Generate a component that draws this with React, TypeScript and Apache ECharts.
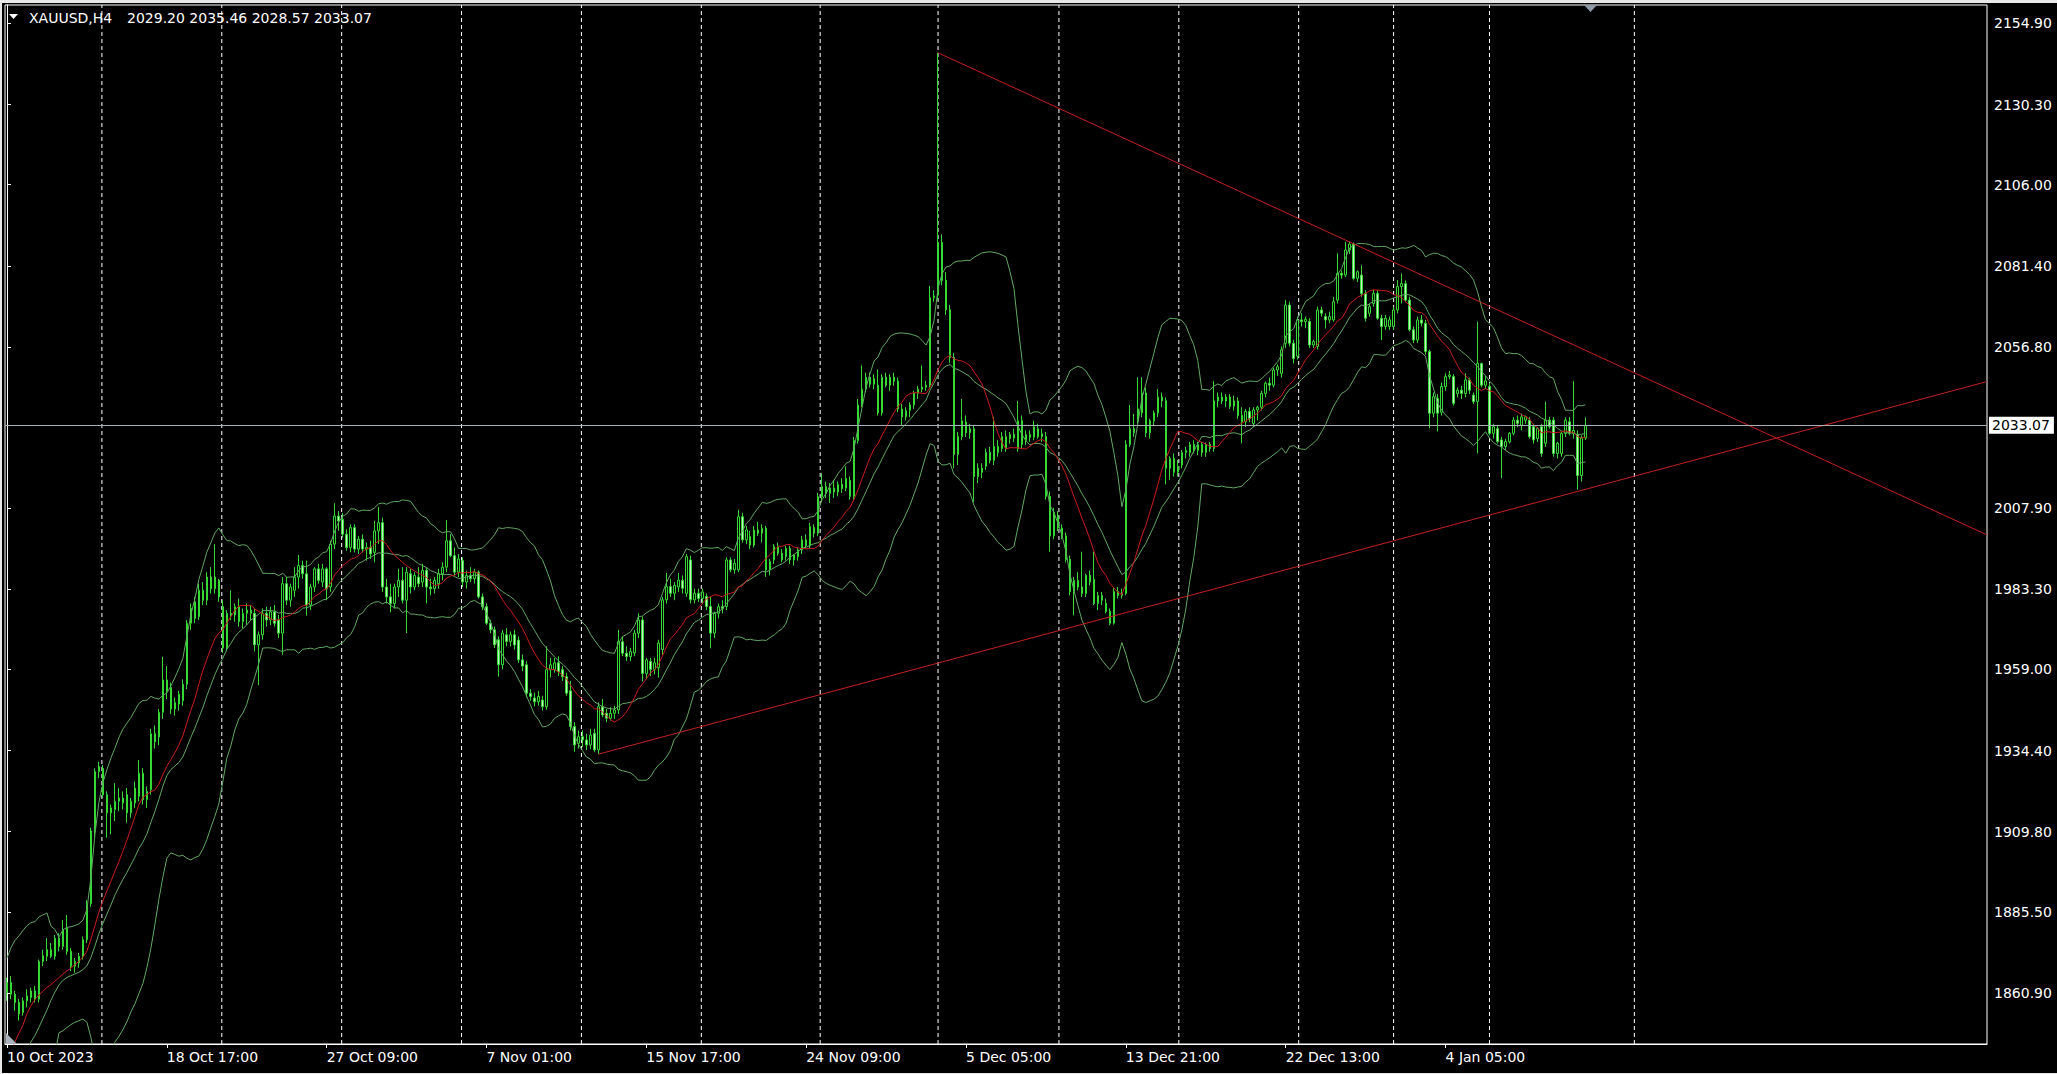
import React, { useEffect, useRef } from "react";
import * as echarts from "echarts";

const W = 2057;
const H = 1074;
const FONT = "'DejaVu Sans', Verdana, sans-serif";

// ---------- DATA (XAUUSD H4, bar 0 = 10 Oct 2023 01:00) ----------
const opens: number[] = [
  1861, 1864, 1860.5, 1858, 1855, 1858.5, 1859.5, 1861.5, 1859, 1870.4,
  1872, 1874, 1872, 1877.5, 1875, 1880.5, 1873.5, 1869, 1870, 1872,
  1877, 1888, 1910, 1928, 1929, 1921, 1915.5, 1916.5, 1919, 1920,
  1921, 1915.5, 1918.5, 1920.5, 1927.5, 1919.5, 1922.5, 1939.5, 1938.5, 1946,
  1955.8, 1953.5, 1947, 1948.5, 1949.5, 1954.5, 1973, 1979.5, 1975, 1983,
  1980, 1987, 1983.5, 1986, 1978, 1965.5, 1976, 1975.5, 1978, 1973.5,
  1976, 1977, 1976, 1966.5, 1969.5, 1976, 1974, 1976.5, 1974, 1970,
  1985, 1980, 1983, 1987, 1990.5, 1988, 1978.5, 1984, 1989.5, 1985.5,
  1989.5, 1984, 1997, 2005.5, 2004.5, 2000, 1996, 2002, 1995.5, 1998.5,
  1995.5, 1996, 1994.5, 2001, 2003.5, 1984, 1981, 1979, 1984, 1986,
  1980, 1988, 1984, 1987, 1985.5, 1989, 1984, 1983.5, 1985, 1988,
  1990, 1998, 1993.5, 1988.5, 1992, 1985.5, 1987.5, 1986.5, 1988.5, 1981,
  1978, 1973, 1971, 1968, 1960.4, 1969.5, 1967.5, 1969.5, 1967.9, 1961.9,
  1960.4, 1951.8, 1950.3, 1949.2, 1949.7, 1947.7, 1958.9, 1959, 1961, 1958.9,
  1956.8, 1952.5, 1941.7, 1936.6, 1938.6, 1937.6, 1936.1, 1939.6, 1934.6, 1947.7,
  1945.7, 1944.2, 1945.7, 1946.7, 1967.4, 1963.9, 1962.9, 1964, 1970, 1974,
  1957.8, 1961.4, 1959, 1959.5, 1965, 1980.1, 1984.1, 1982.1, 1984, 1986,
  1982.1, 1992.2, 1980.1, 1982.1, 1980.5, 1981.1, 1978.1, 1970, 1976, 1978,
  1978.1, 1992.2, 1989.2, 1989.2, 2005.3, 1998.3, 1999.3, 1996.7, 2001.3, 2000.3,
  2001.8, 1989.2, 1992.2, 1996.2, 1994.2, 1993.2, 1995.7, 1992.2, 1993.2, 1995.2,
  1998.3, 1996.5, 2002, 2000.3, 2011.4, 2014.4, 2012.4, 2014, 2012.8, 2015.1,
  2014, 2016.3, 2011.5, 2028.4, 2039.2, 2044, 2047.6, 2045.5, 2045.2, 2036.8,
  2047.6, 2045.2, 2047.6, 2046.4, 2038, 2035.6, 2037.5, 2039.2, 2042.8, 2044,
  2044.6, 2045.2, 2071.7, 2072.5, 2088.5, 2077, 2068.1, 2053.6, 2024.2, 2029.6,
  2034, 2030.8, 2032, 2017.5, 2020, 2020.6, 2024.8, 2022.4, 2026.6, 2026,
  2029.6, 2029, 2030.2, 2026, 2034.4, 2028.4, 2030.2, 2029.4, 2032, 2029.6,
  2029.6, 2011.5, 1999.5, 2005.5, 2001.9, 1999.5, 1992.3, 1982.6, 1986, 1984,
  1982, 1987.5, 1986.3, 1979, 1981.4, 1979, 1976.6, 1973, 1982.6, 1981.4,
  1982, 2027.2, 2032, 2034.4, 2036.8, 2042.8, 2030.8, 2034.4, 2036.8, 2041.6,
  2040.5, 2020, 2023, 2018.8, 2021, 2024.8, 2024.8, 2027.2, 2025.4, 2027.2,
  2024.8, 2027.2, 2026, 2040.4, 2041.6, 2040.4, 2041.6, 2038.8, 2040.4, 2036,
  2034.1, 2037.2, 2033.6, 2037.7, 2038.5, 2042.7, 2045.8, 2045.2, 2049.8, 2048.8,
  2057.9, 2069.5, 2057.9, 2054, 2065, 2064.5, 2064.5, 2057.4, 2056.9, 2068,
  2066, 2065, 2065, 2071, 2079.1, 2078.6, 2086.2, 2088, 2077.6, 2078.6,
  2073, 2067, 2070, 2073, 2065.5, 2063, 2063, 2063, 2068, 2075.1,
  2076, 2071, 2062, 2058.9, 2065, 2064, 2055.4, 2036.7, 2041.2, 2037,
  2044.8, 2047.8, 2047.8, 2042.7, 2043.7, 2042.7, 2046.8, 2042.2, 2040.2, 2051.8,
  2045.2, 2044.8, 2030.6, 2032, 2028.6, 2026.6, 2028, 2030.6, 2034.6, 2033,
  2034.6, 2034.6, 2032.6, 2029, 2032.6, 2027.6, 2034.6, 2034.6, 2024.5, 2024.5,
  2030.6, 2034.1, 2030.6, 2030.3, 2017.8, 2029.2,
];
const highs: number[] = [
  1865.5, 1866, 1861.5, 1859, 1859.5, 1862, 1862.5, 1863, 1871, 1874,
  1877.5, 1876, 1878.5, 1879, 1883, 1884.5, 1874.5, 1871.5, 1873, 1878,
  1889, 1911, 1929, 1931, 1930, 1922, 1918, 1924.5, 1923, 1922,
  1923, 1920, 1925, 1931.5, 1929, 1923.5, 1941, 1942, 1947, 1962.8,
  1960, 1955, 1950.5, 1952.5, 1956, 1974, 1979, 1981, 1985, 1985.5,
  1988.5, 1990, 1997, 1986.5, 1980, 1977, 1983, 1979, 1980.5, 1977.5,
  1979, 1978.5, 1977.5, 1970.5, 1977.5, 1978, 1978, 1978.5, 1975.5, 1987,
  1987, 1985, 1990, 1993.7, 1992, 1992, 1985, 1990, 1991, 1991,
  1990, 1998, 2009.4, 2007, 2006.5, 2001.5, 2003, 2003, 1999.5, 2000,
  1997.5, 1998, 2004, 2008.3, 2005, 1986.5, 1985, 1985, 1989.5, 1990,
  1990, 1989.5, 1988.5, 1990, 1991, 1990, 1986.5, 1987, 1989.5, 1991.5,
  2004.3, 2000, 1996, 1994, 1993, 1989, 1990, 1989.5, 1989, 1982,
  1979, 1974, 1972, 1969, 1971, 1971.5, 1970.5, 1971, 1969, 1963.5,
  1961.5, 1953, 1952, 1952.5, 1951, 1966, 1962.5, 1962.5, 1963, 1960,
  1958, 1955.5, 1943, 1940.5, 1940.5, 1939.5, 1941, 1941, 1949, 1950,
  1947, 1947.5, 1948, 1971, 1969, 1966, 1965.5, 1971, 1976, 1975,
  1962.5, 1962.5, 1962.5, 1968, 1981, 1988.2, 1986.5, 1985.5, 1988.2, 1987.5,
  1994, 1993.5, 1983.5, 1983.5, 1983.5, 1982, 1981, 1976.5, 1979, 1980,
  1993, 1993, 1992.5, 2007.4, 2006.5, 2002.5, 2001, 2002.5, 2003.8, 2003,
  2002.5, 1992.5, 1997, 1997.5, 1995.5, 1996.5, 1996.5, 1994, 1996, 1999.5,
  2000, 2003.5, 2003, 2012.5, 2018.5, 2016, 2015.5, 2016.5, 2016, 2017,
  2020.6, 2017.5, 2029.5, 2041, 2051.2, 2049, 2049, 2048.5, 2050, 2048.5,
  2049, 2048.5, 2049, 2047.5, 2039.5, 2038.5, 2040, 2043.5, 2045, 2051.2,
  2046.5, 2075.3, 2074, 2146, 2090.9, 2079.5, 2069.5, 2055, 2031, 2041,
  2036, 2033.5, 2033, 2021.5, 2021.5, 2026, 2026.5, 2035.6, 2028.5, 2031,
  2031.5, 2031, 2032, 2040.4, 2036, 2031.5, 2031.5, 2034.4, 2033.5, 2032,
  2031, 2013, 2008, 2007, 2003, 2000.5, 1993.5, 1987, 1988.5, 1994.7,
  1988, 1989, 1994.7, 1982.5, 1982.5, 1980.5, 1977.5, 1984, 1984, 1983.5,
  2028.5, 2039.2, 2036.5, 2047.6, 2047.6, 2044.5, 2035, 2037.5, 2044, 2043,
  2041.5, 2023.6, 2024.5, 2022.5, 2025.5, 2026.5, 2028, 2028.5, 2028, 2028,
  2027.8, 2028, 2046.4, 2043, 2043, 2042.5, 2042.5, 2042, 2041.5, 2038.5,
  2038, 2038.5, 2038.5, 2039, 2043.5, 2046.3, 2047.5, 2050.5, 2051.5, 2057,
  2071, 2070.5, 2059, 2066, 2067, 2066, 2065.5, 2059, 2069, 2069,
  2067, 2067.5, 2072, 2085.2, 2080, 2088.7, 2088.7, 2088.5, 2080, 2081.6,
  2074, 2070, 2074.1, 2074, 2066.5, 2066.5, 2066, 2069, 2077.1, 2079.1,
  2077, 2072, 2063, 2066, 2066.5, 2065, 2056, 2043, 2042.5, 2046,
  2048.8, 2049.5, 2048.5, 2044.5, 2045, 2048.8, 2047.5, 2043, 2064.5, 2052,
  2048, 2046, 2033.5, 2033, 2029.5, 2029, 2031, 2035.5, 2036, 2036.6,
  2036, 2035.5, 2033.5, 2032.5, 2033.5, 2040.2, 2035.6, 2035.5, 2028, 2031,
  2035.5, 2035.5, 2046.4, 2031.5, 2030, 2035.46,
];
const lows: number[] = [
  1858.5, 1859, 1855.5, 1852.5, 1854, 1856.5, 1858, 1858, 1858, 1869,
  1870.5, 1871.5, 1871, 1873.5, 1874, 1872.5, 1867.5, 1867, 1868.5, 1871,
  1876, 1887, 1908, 1926, 1920, 1908, 1909, 1913, 1916, 1916.5,
  1912.5, 1914, 1917, 1919, 1918, 1917, 1921, 1935, 1936, 1944,
  1950, 1945.5, 1945, 1946.5, 1948, 1953, 1971, 1973, 1974, 1978.5,
  1978.5, 1982, 1982, 1979.5, 1964, 1964.5, 1974, 1973.5, 1972, 1971.5,
  1972.5, 1974, 1964.5, 1954.2, 1968, 1972, 1972.5, 1972, 1968.5, 1963.5,
  1978.5, 1978, 1981, 1983.5, 1986.5, 1975.3, 1977, 1982.5, 1985, 1984,
  1980, 1982.5, 1995.5, 2001, 1999, 1995, 1994.5, 1994.5, 1994, 1994.5,
  1992, 1992.5, 1991.5, 1997, 1982.5, 1979, 1976.3, 1977.5, 1981, 1979,
  1970, 1982, 1983, 1984, 1984, 1979, 1981.5, 1982, 1983.5, 1986,
  1988.5, 1993, 1987.5, 1987, 1984, 1983.5, 1985.5, 1985, 1980.5, 1977,
  1972.5, 1970, 1965.5, 1956.8, 1959, 1966, 1966, 1965, 1961, 1958.5,
  1950.5, 1949.5, 1947.8, 1948, 1946.5, 1946.8, 1956.5, 1958, 1957, 1955.5,
  1951, 1940.5, 1934, 1935, 1935.5, 1934.5, 1934.8, 1934, 1933.3, 1944.5,
  1943, 1943.5, 1944, 1945.5, 1963, 1961.5, 1961.5, 1963, 1968.5, 1955.3,
  1956, 1957, 1957.5, 1956.5, 1963.5, 1979, 1981, 1980, 1982.5, 1982,
  1981, 1979, 1979, 1979.5, 1979, 1977, 1965.4, 1968.5, 1974.5, 1976,
  1977, 1988.5, 1988, 1988.5, 1997.5, 1997, 1995.5, 1996, 1999.5, 1997.5,
  1987.1, 1987.5, 1991, 1993.5, 1991.5, 1992, 1991, 1990.5, 1992, 1994,
  1995.5, 1995.5, 1999, 1999.5, 2010, 2011, 2009.5, 2011, 2011.5, 2012.5,
  2013, 2010.5, 2010.5, 2027.5, 2038.5, 2043, 2044.5, 2044, 2036, 2036,
  2044.5, 2043.5, 2045, 2037, 2033.2, 2034.5, 2035.5, 2038, 2041, 2043,
  2043.5, 2044.5, 2070.5, 2071, 2075.5, 2066.5, 2052, 2020, 2021, 2028.5,
  2029.5, 2029, 2009.7, 2015.5, 2017, 2019.5, 2021.5, 2021, 2023.5, 2025,
  2025, 2027.5, 2028, 2025, 2026, 2027, 2028, 2028.5, 2029, 2028,
  2010.5, 1994.7, 1998.5, 2001, 1998.5, 1991.5, 1981.5, 1975.4, 1983, 1981,
  1981, 1984.5, 1978.5, 1977, 1978.5, 1976, 1972.4, 1972.6, 1980.5, 1980.5,
  1981.5, 2026.5, 2029.5, 2033.5, 2035.5, 2029.5, 2029, 2033, 2035.5, 2038.5,
  2015.1, 2016.5, 2017.5, 2017.5, 2020, 2023, 2023.5, 2024.5, 2024, 2023.5,
  2023.5, 2025, 2025, 2038.5, 2039.5, 2038.5, 2038, 2037.5, 2035, 2027.6,
  2032.5, 2034, 2032.5, 2034.5, 2037.5, 2041.5, 2043.5, 2044.5, 2048, 2047.5,
  2056.5, 2057, 2051.8, 2053, 2063, 2062.5, 2056.5, 2056.5, 2056, 2066,
  2062.4, 2064, 2064.5, 2070, 2077.5, 2078, 2085, 2077, 2076.5, 2072,
  2064.5, 2066, 2069, 2065, 2058.9, 2062, 2062, 2062, 2067, 2070,
  2070.5, 2061.5, 2058, 2058, 2063, 2054.5, 2032.1, 2035.5, 2031.1, 2036,
  2043.5, 2047, 2039, 2041.5, 2041, 2041.5, 2042.5, 2039.5, 2024.5, 2044.5,
  2044, 2030, 2029, 2027.5, 2017, 2025.5, 2027.5, 2030, 2032.5, 2031.5,
  2033.5, 2029, 2027.5, 2028, 2023.5, 2026.5, 2032, 2023.5, 2023, 2023.5,
  2029.5, 2030, 2029, 2013.5, 2016, 2028.57,
];
const closes: number[] = [
  1864, 1860.5, 1858, 1854.5, 1858.5, 1860, 1861.5, 1859, 1870.4, 1872.2,
  1874, 1872, 1877.5, 1875, 1880, 1873.5, 1869, 1870.5, 1872, 1877,
  1887.6, 1910, 1928, 1929.5, 1921, 1915.5, 1917, 1919, 1920, 1918.5,
  1915.5, 1919, 1923, 1927.5, 1919.5, 1922, 1939.5, 1937, 1946, 1955.8,
  1952.5, 1947, 1949, 1951.5, 1954.5, 1973, 1977.5, 1974.5, 1983, 1980,
  1987, 1983.5, 1987, 1981, 1965.5, 1976, 1975.5, 1978, 1973.5, 1976,
  1977, 1976, 1966.5, 1969.5, 1976, 1974, 1976.5, 1973, 1970, 1985,
  1980, 1984, 1987, 1990.5, 1988, 1978.5, 1984, 1989.5, 1986, 1989.5,
  1983.5, 1997, 2005.5, 2004, 2000, 1996, 2002, 1995.5, 1998.5, 1995.5,
  1996, 1994, 2001, 2003.5, 1984, 1981, 1979, 1984, 1986, 1980,
  1988.5, 1984, 1987.5, 1985, 1989, 1984, 1983.5, 1986, 1988, 1990,
  1998, 1993.5, 1988.5, 1992.5, 1985.5, 1987.5, 1986.5, 1988.5, 1981, 1978,
  1973, 1971, 1966.5, 1960.4, 1970, 1967.5, 1969.5, 1966.4, 1961.9, 1960,
  1951.8, 1950.8, 1949.2, 1950.8, 1947.7, 1958.9, 1960.4, 1961, 1958.3, 1956.8,
  1951.8, 1941.7, 1936.1, 1938.6, 1937.6, 1936.1, 1939.1, 1934.6, 1947.7, 1945.2,
  1944.2, 1945.7, 1946.7, 1967.4, 1963.9, 1962.9, 1964.4, 1970, 1974, 1957.8,
  1961.9, 1959, 1961, 1967, 1980.1, 1984.1, 1982.1, 1984.5, 1986.1, 1983.6,
  1993.2, 1980.1, 1982.1, 1980.5, 1982.5, 1978.1, 1970, 1976, 1978, 1977.5,
  1992.2, 1989.2, 1991.2, 2005.3, 1998.3, 2001.3, 1996.7, 2001.3, 2000.3, 2001.8,
  1989.2, 1991.7, 1996.2, 1994.2, 1992.2, 1995.7, 1992.2, 1993.7, 1995.2, 1998.3,
  1996.5, 2002.3, 2000.3, 2011.4, 2014.4, 2012.4, 2014, 2012.8, 2015.1, 2013.9,
  2016.9, 2011.5, 2028.4, 2039.2, 2044, 2047.6, 2045.5, 2047.2, 2036.8, 2047.6,
  2045.2, 2047.6, 2046.4, 2038, 2035.6, 2037.5, 2039.2, 2042.8, 2044, 2044.6,
  2045.2, 2071.7, 2072.3, 2088.5, 2077, 2068.1, 2053.6, 2024.2, 2029.6, 2034.4,
  2030.8, 2032, 2017.5, 2020, 2018.8, 2024.8, 2022.4, 2026.6, 2024.8, 2029.6,
  2026, 2030.2, 2029.2, 2034.4, 2027.2, 2030.2, 2029.4, 2032.6, 2029.6, 2030.5,
  2011.5, 1999.5, 2006.7, 2001.9, 1999.5, 1992.3, 1982.6, 1986, 1984, 1982,
  1987.5, 1985.5, 1979, 1981.4, 1980, 1976.6, 1973, 1982.6, 1981.4, 1982,
  2027.2, 2032, 2030.8, 2038, 2042.8, 2030.8, 2034.4, 2036.8, 2041.6, 2040.5,
  2020, 2023, 2018.8, 2020.6, 2024.8, 2025.4, 2027.2, 2025.4, 2027.2, 2024.8,
  2027.2, 2026, 2040.4, 2041.6, 2040.4, 2041.6, 2038.8, 2040.4, 2036, 2034.1,
  2037.2, 2035.1, 2037.7, 2038.5, 2042.7, 2045.8, 2045.2, 2049.8, 2050.8, 2055.9,
  2069.5, 2057.9, 2053.3, 2065, 2064.5, 2065.2, 2057.4, 2058.4, 2068, 2067,
  2065, 2066, 2070.5, 2079.1, 2078.6, 2086.2, 2088, 2077.6, 2079.6, 2073,
  2065.5, 2069, 2073, 2065.5, 2063, 2065.5, 2065, 2068, 2075.1, 2076,
  2071, 2062, 2058.9, 2065, 2064, 2055.4, 2036.7, 2041.7, 2036.7, 2044.8,
  2047.8, 2048.3, 2039.7, 2043.7, 2042.7, 2046.8, 2043.7, 2040.2, 2051.8, 2045.2,
  2046.5, 2030.6, 2032.6, 2028.1, 2026.6, 2028.1, 2030.6, 2034.6, 2033.6, 2035.6,
  2035.6, 2029.6, 2028.6, 2032.1, 2024.5, 2034.6, 2032.6, 2024.5, 2027.6, 2030.6,
  2034.6, 2030.6, 2031.5, 2017.8, 2029.2, 2033.07,
];
// closes of the 19 H4 bars before 10 Oct (needed by the indicators)
const warmupCloses: number[] = [
  1822, 1820, 1819, 1822, 1820, 1818, 1820, 1821, 1819, 1823,
  1812, 1828, 1832, 1852, 1856, 1858, 1860, 1862, 1861,
];

const TOTAL_SLOTS = 496; // bars + empty space to the right (chart shift)
const xTickIndex: number[] = [0, 40, 80, 120, 160, 200, 240, 280, 320, 360];
const xTickLabels: string[] = [
  "10 Oct 2023", "18 Oct 17:00", "27 Oct 09:00", "7 Nov 01:00", "15 Nov 17:00",
  "24 Nov 09:00", "5 Dec 05:00", "13 Dec 21:00", "22 Dec 13:00", "4 Jan 05:00",
];
const yTickValues: number[] = [
  1860.9, 1885.5, 1909.8, 1934.4, 1959.0, 1983.3, 2007.9, 2056.8, 2081.4, 2106.0, 2130.3, 2154.9,
];
const Y_MIN = 1845.4;
const Y_MAX = 2160.5;
// week separators (in bar units)
const weekSeparators: number[] = [
  23.75, 53.75, 83.75, 113.75, 143.75, 173.75, 203.5, 233.0, 263.25, 293.25, 323.25, 347.0, 371.0, 407.25,
];
const trendDown: number[][] = [[233, 2146.0], [495.5, 1999.8]];
const trendUp: number[][] = [[148, 1933.3], [495.5, 2046.3]];
const symbolName = "XAUUSD,H4";
const lastBar = { o: 2029.2, h: 2035.46, l: 2028.57, c: 2033.07 };

const MA_PERIOD = 14;
const BB_PERIOD = 20;
const BB_DEV = 2;

function buildIndicators() {
  const all = warmupCloses.concat(closes);
  const off = warmupCloses.length;
  const ma: (number | null)[] = [];
  const mid: (number | null)[] = [];
  const up: (number | null)[] = [];
  const dn: (number | null)[] = [];
  for (let i = 0; i < closes.length; i++) {
    const k = i + off;
    if (k - MA_PERIOD + 1 >= 0) {
      let s = 0;
      for (let j = k - MA_PERIOD + 1; j <= k; j++) s += all[j];
      ma.push(+(s / MA_PERIOD).toFixed(3));
    } else ma.push(null);
    if (k - BB_PERIOD + 1 >= 0) {
      let s = 0;
      for (let j = k - BB_PERIOD + 1; j <= k; j++) s += all[j];
      const m = s / BB_PERIOD;
      let v = 0;
      for (let j = k - BB_PERIOD + 1; j <= k; j++) v += (all[j] - m) * (all[j] - m);
      const sd = Math.sqrt(v / BB_PERIOD);
      mid.push(+m.toFixed(3));
      up.push(+(m + BB_DEV * sd).toFixed(3));
      dn.push(+(m - BB_DEV * sd).toFixed(3));
    } else {
      mid.push(null);
      up.push(null);
      dn.push(null);
    }
  }
  return { ma, mid, up, dn };
}

export default function App() {
  const ref = useRef<HTMLDivElement>(null);

  useEffect(() => {
    document.body.style.margin = "0";
    document.body.style.background = "#000";
    const el = ref.current!;
    const chart = echarts.init(el, null, { renderer: "svg", width: W, height: H });

    const categories = Array.from({ length: TOTAL_SLOTS }, (_, i) => String(i));
    const candleData = closes.map((c, i) => [
      opens[i],
      c,
      Math.min(lows[i], opens[i], c),
      Math.max(highs[i], opens[i], c),
    ]);
    const ind = buildIndicators();
    const labelMap = new Map<number, string>();
    xTickIndex.forEach((idx, k) => labelMap.set(idx, xTickLabels[k]));
    const showIdx = (index: number) => labelMap.has(index);

    const candleGreen = "#35d835";
    const bandGreen = "#62a862";
    const maRed = "#cc1c1c";
    const lineRed = "#c42020";

    const separatorSeries = weekSeparators.map((v, k) => ({
      name: "sep" + k,
      type: "line",
      xAxisIndex: 1,
      yAxisIndex: 0,
      data: [[v, Y_MIN], [v, Y_MAX]],
      symbol: "none",
      silent: true,
      z: 1,
      lineStyle: { color: "#ffffff", width: 1, type: [4, 3] },
    }));

    const bandSeries = (name: string, data: (number | null)[], color: string) => ({
      name,
      type: "line",
      xAxisIndex: 0,
      yAxisIndex: 0,
      data,
      symbol: "none",
      showSymbol: false,
      silent: true,
      z: 4,
      lineStyle: { color, width: 1 },
    });

    const option: any = {
      animation: false,
      backgroundColor: "#000000",
      grid: {
        left: 5,
        top: 5,
        width: 1982,
        height: 1039,
        show: true,
        borderColor: "#ffffff",
        borderWidth: 1,
        backgroundColor: "#000000",
      },
      xAxis: [
        {
          type: "category",
          data: categories,
          boundaryGap: true,
          axisLine: { show: true, lineStyle: { color: "#ffffff", width: 1 } },
          axisTick: {
            show: true,
            alignWithLabel: true,
            interval: (index: number) => showIdx(index),
            length: 4,
            lineStyle: { color: "#ffffff" },
          },
          axisLabel: {
            show: true,
            interval: (index: number) => showIdx(index),
            formatter: (_v: string, index: number) => labelMap.get(index) ?? "",
            align: "left",
            color: "#ffffff",
            fontSize: 14,
            fontFamily: FONT,
            margin: 6,
          },
          splitLine: { show: false },
        },
        {
          type: "value",
          min: -0.5,
          max: TOTAL_SLOTS - 0.5,
          show: false,
          splitLine: { show: false },
        },
      ],
      yAxis: [
        {
          type: "value",
          position: "right",
          min: Y_MIN,
          max: Y_MAX,
          axisLine: { show: true, lineStyle: { color: "#ffffff", width: 1 } },
          axisTick: {
            show: true,
            length: 4,
            lineStyle: { color: "#ffffff" },
            customValues: yTickValues,
          },
          axisLabel: {
            show: true,
            customValues: yTickValues,
            formatter: (v: number) => v.toFixed(2),
            color: "#ffffff",
            fontSize: 14,
            fontFamily: FONT,
            margin: 7,
          },
          splitLine: { show: false },
        },
      ],
      series: [
        ...separatorSeries,
        {
          name: symbolName,
          type: "candlestick",
          xAxisIndex: 0,
          yAxisIndex: 0,
          data: candleData,
          barWidth: 2,
          z: 3,
          itemStyle: {
            color: "#000000",
            color0: "#c4f2c4",
            borderColor: candleGreen,
            borderColor0: candleGreen,
            borderColorDoji: candleGreen,
            borderWidth: 1,
          },
          markLine: {
            silent: true,
            symbol: ["none", "none"],
            precision: 2,
            z: 6,
            lineStyle: { color: "#a8aeb6", width: 1, type: "solid" },
            label: {
              show: true,
              position: "end",
              distance: 2,
              formatter: () => lastBar.c.toFixed(2),
              backgroundColor: "#ffffff",
              color: "#000000",
              fontSize: 14,
              fontFamily: FONT,
              padding: [2, 4, 1, 3],
            },
            data: [{ yAxis: lastBar.c }],
          },
        },
        bandSeries("BB upper", ind.up, bandGreen),
        bandSeries("BB middle", ind.mid, bandGreen),
        bandSeries("BB lower", ind.dn, bandGreen),
        bandSeries("MA", ind.ma, maRed),
        {
          name: "trend down",
          type: "line",
          xAxisIndex: 1,
          yAxisIndex: 0,
          data: trendDown,
          symbol: "none",
          silent: true,
          z: 5,
          lineStyle: { color: lineRed, width: 1 },
        },
        {
          name: "trend up",
          type: "line",
          xAxisIndex: 1,
          yAxisIndex: 0,
          data: trendUp,
          symbol: "none",
          silent: true,
          z: 5,
          lineStyle: { color: lineRed, width: 1 },
        },
      ],
      graphic: [
        { type: "rect", shape: { x: 0, y: 0, width: W, height: 3 }, style: { fill: "#e8e8e8" }, silent: true },
        { type: "rect", shape: { x: 0, y: 0, width: 2, height: H }, style: { fill: "#e8e8e8" }, silent: true },
        { type: "rect", shape: { x: 0, y: H - 1, width: W, height: 1 }, style: { fill: "#e8e8e8" }, silent: true },
        {
          type: "polygon",
          shape: { points: [[9, 14], [18, 14], [13.5, 19]] },
          style: { fill: "#ffffff" },
          silent: true,
          z: 100,
        },
        {
          type: "text",
          x: 29,
          y: 18,
          style: {
            text: symbolName,
            fill: "#ffffff",
            fontSize: 14,
            fontFamily: FONT,
            verticalAlign: "middle",
          },
          silent: true,
          z: 100,
        },
        {
          type: "text",
          x: 127,
          y: 18,
          style: {
            text: [lastBar.o, lastBar.h, lastBar.l, lastBar.c].map((v) => v.toFixed(2)).join(" "),
            fill: "#ffffff",
            fontSize: 14,
            fontFamily: FONT,
            verticalAlign: "middle",
          },
          silent: true,
          z: 100,
        },
        {
          type: "polygon",
          shape: { points: [[1584, 5], [1597, 5], [1590.5, 12]] },
          style: { fill: "#8e99a6" },
          silent: true,
          z: 100,
        },
        {
          type: "polygon",
          shape: { points: [[6, 1033], [6, 1044], [17, 1044]] },
          style: { fill: "#a9b2bc" },
          silent: true,
          z: 100,
        },
      ],
    };

    chart.setOption(option);
    return () => {
      chart.dispose();
    };
  }, []);

  return <div ref={ref} style={{ width: W, height: H }} />;
}
